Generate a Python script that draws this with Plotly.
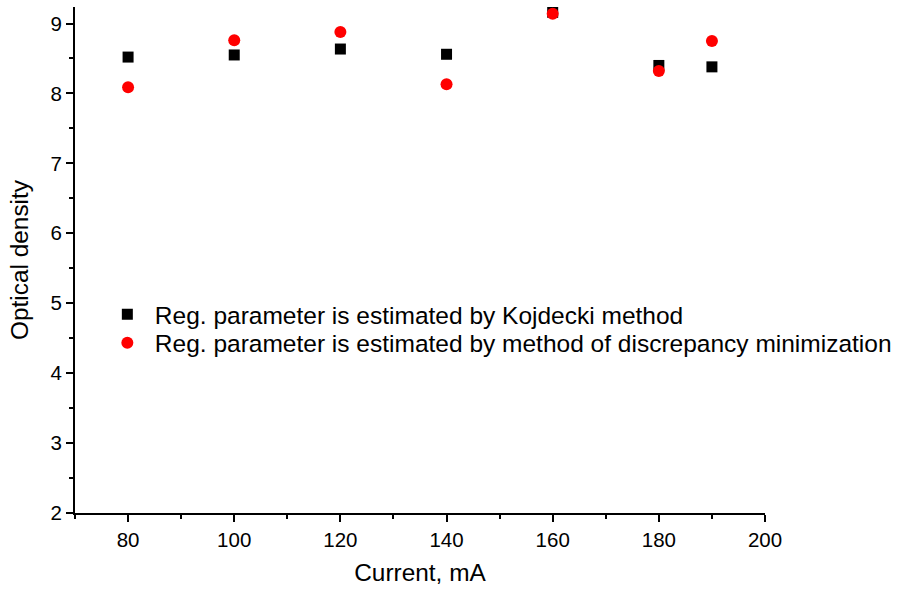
import plotly.graph_objects as go

# Current, mA
current = [80, 100, 120, 140, 160, 180, 190]
# Optical density, regularisation parameter by Kojdecki method
od_kojdecki = [8.52, 8.55, 8.635, 8.56, 9.16, 8.40, 8.38]
# Optical density, regularisation parameter by discrepancy minimisation
od_discrepancy = [8.09, 8.76, 8.88, 8.13, 9.14, 8.32, 8.75]

names = [
    "Reg. parameter is estimated by Kojdecki method",
    "Reg. parameter is estimated by method of discrepancy minimization",
]

fig = go.Figure()
fig.add_trace(go.Scatter(
    x=current, y=od_kojdecki, mode="markers", name=names[0],
    marker=dict(symbol="square", size=11, color="black"),
    legend="legend",
))
fig.add_trace(go.Scatter(
    x=current, y=od_discrepancy, mode="markers", name=names[1],
    marker=dict(symbol="circle", size=12, color="red"),
    legend="legend2",
))

axis_common = dict(
    showline=True, linecolor="black", linewidth=2,
    ticks="outside", ticklen=7, tickwidth=2, tickcolor="black",
    showgrid=False, zeroline=False, mirror=False,
    tickfont=dict(family="Liberation Sans, Arial", size=20.5, color="black"),
)

legend_common = dict(
    x=0.036, xanchor="left", yanchor="top",
    bgcolor="rgba(0,0,0,0)", font=dict(size=24.5),
    itemsizing="trace", itemwidth=45,
)

fig.update_layout(
    width=907, height=592,
    margin=dict(l=75, r=142, t=7, b=79),
    paper_bgcolor="white", plot_bgcolor="white",
    font=dict(family="Liberation Sans, Arial", size=24, color="black"),
    xaxis=dict(
        range=[70, 200], tick0=80, dtick=20,
        minor=dict(ticks="outside", ticklen=4, tickwidth=2, tickcolor="black", dtick=10, tick0=70),
        title=dict(text="Current, mA", font=dict(size=24.4), standoff=14),
        **axis_common,
    ),
    yaxis=dict(
        range=[2, 9.236], tick0=2, dtick=1,
        minor=dict(ticks="outside", ticklen=4, tickwidth=2, tickcolor="black", dtick=0.5, tick0=2),
        title=dict(text="Optical density", font=dict(size=24.4), standoff=15),
        **axis_common,
    ),
    legend=dict(y=0.437, **legend_common),
    legend2=dict(y=0.381, **legend_common),
    showlegend=True,
)

fig.write_html("out.html")
